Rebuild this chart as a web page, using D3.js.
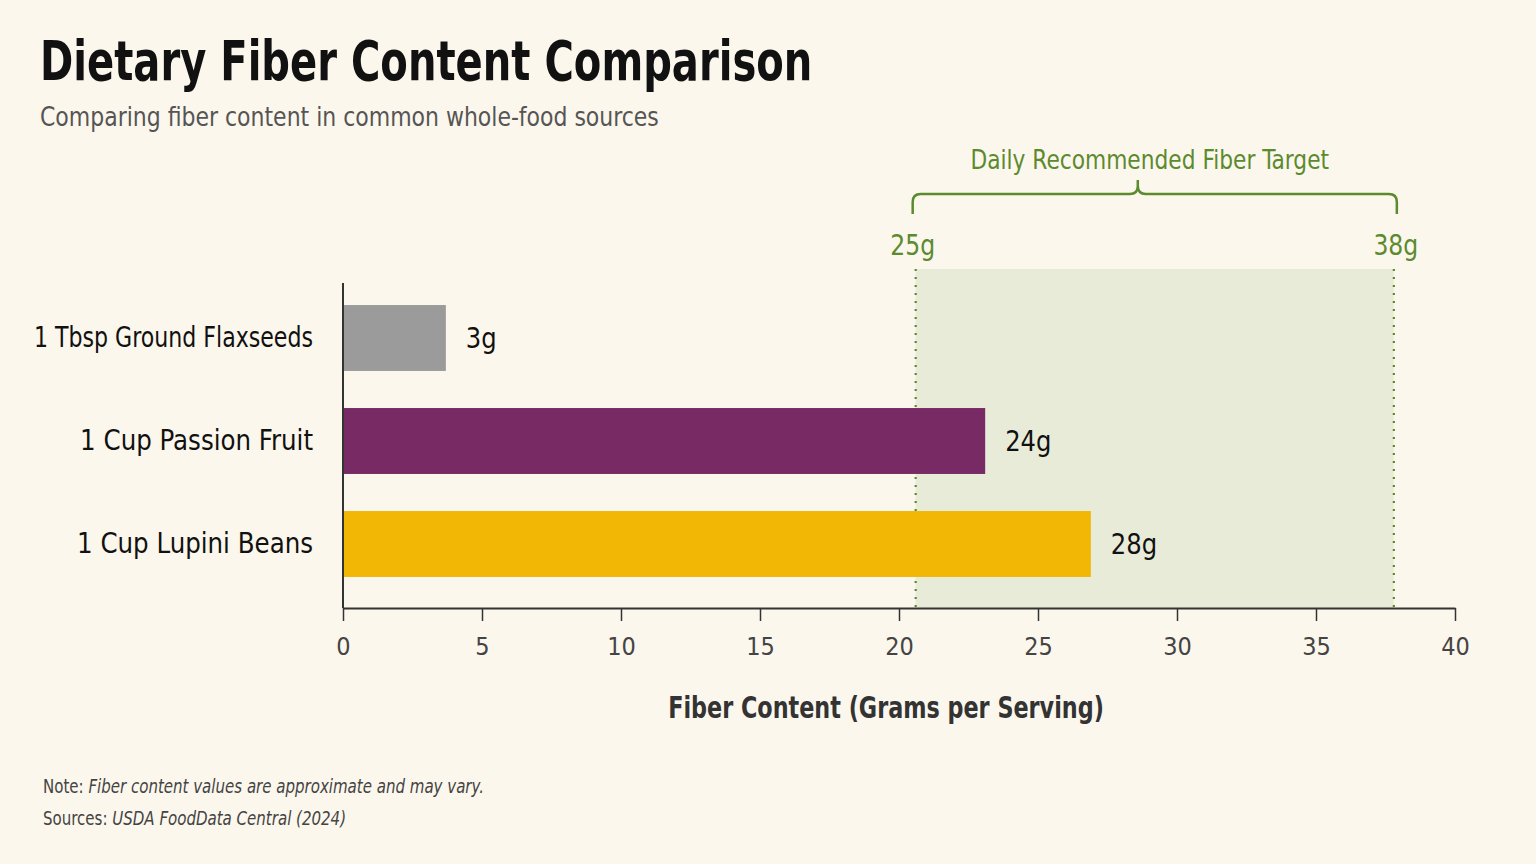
<!DOCTYPE html>
<html>
<head>
<meta charset="utf-8">
<script src="https://cdn.jsdelivr.net/npm/d3@7"></script>
<style>
  html, body { margin: 0; padding: 0; background: #fcf7ec; }
  svg text { font-family: "Liberation Sans Narrow", "DejaVu Sans Condensed", sans-serif; }
</style>
</head>
<body>
<div id="chart"></div>
<script>
// Data
const foods = ["1 Tbsp Ground Flaxseeds", "1 Cup Passion Fruit", "1 Cup Lupini Beans"]
const fiberValues = [3.7, 23.1, 26.9]
const valueLabels = ["3g", "24g", "28g"]
const barColors = ["#9b9b9b", "#772a63", "#f2b705"]
const targetRange = [20.6, 37.8]
const targetLabels = ["25g", "38g"]
const xTicks = [0, 5, 10, 15, 20, 25, 30, 35, 40]

const width = 1536
const height = 864
const green = "#5b8a2f"

const svg = d3.select('#chart').append('svg')
  .attr("width", width)
  .attr("height", height)
  .style("background", "#fcf7ec")

// squeeze text horizontally so it matches the narrow face of the original
function condense(sel, k, maxW) {
  sel.each(function () {
    const w = this.getComputedTextLength()
    let nw = w * k
    if (maxW && nw > maxW) nw = maxW
    d3.select(this).attr("textLength", nw).attr("lengthAdjust", "spacingAndGlyphs")
  })
}

// Scales
const x = d3.scaleLinear().domain([0, 40]).range([343, 1455])
const y = d3.scaleBand().domain(foods).range([286.5, 595.5])
  .paddingInner(0.36).paddingOuter(0.18)
const axisY = 608

// Title
svg.append("text")
  .attr("x", 40).attr("y", 80)
  .attr("font-size", 55).attr("font-weight", "bold")
  .attr("fill", "#111")
  .text("Dietary Fiber Content Comparison")
  .call(condense, 0.81)

svg.append("text")
  .attr("x", 40).attr("y", 126)
  .attr("font-size", 27)
  .attr("fill", "#555")
  .text("Comparing fiber content in common whole-food sources")
  .call(condense, 0.905)

// Target band
const band = svg.append("g")
band.append("rect")
  .attr("x", x(targetRange[0]))
  .attr("y", 269)
  .attr("width", x(targetRange[1]) - x(targetRange[0]))
  .attr("height", axisY - 269)
  .attr("fill", "#e9ebd9")

band.selectAll("line")
  .data(targetRange)
  .enter()
  .append("line")
  .attr("x1", d => x(d)).attr("x2", d => x(d))
  .attr("y1", 269).attr("y2", axisY)
  .attr("stroke", green)
  .attr("stroke-width", 2.2)
  .attr("stroke-dasharray", "2,6")

// Brace above band
const bl = x(targetRange[0]) - 3, br = x(targetRange[1]) + 3
const bm = bl + (br - bl) * 0.465
const by = 194, r = 8
band.append("path")
  .attr("d", `M${bl},214 L${bl},${by + r} Q${bl},${by} ${bl + r},${by}
    L${bm - r},${by} Q${bm},${by} ${bm},${by - r} L${bm},180
    M${bm},${by - r} Q${bm},${by} ${bm + r},${by}
    L${br - r},${by} Q${br},${by} ${br},${by + r} L${br},214`)
  .attr("fill", "none")
  .attr("stroke", green)
  .attr("stroke-width", 2.5)

band.append("text")
  .attr("x", (bl + br) / 2 - 5).attr("y", 169)
  .attr("text-anchor", "middle")
  .attr("font-size", 27)
  .attr("fill", green)
  .text("Daily Recommended Fiber Target")
  .call(condense, 0.895)

band.selectAll(".tlabel")
  .data(targetRange)
  .enter()
  .append("text")
  .attr("class", "tlabel")
  .attr("x", (d, i) => i === 0 ? bl : br - 1)
  .attr("y", 255)
  .attr("text-anchor", "middle")
  .attr("font-size", 29)
  .attr("fill", green)
  .text((d, i) => targetLabels[i])
  .call(condense, 0.9)

// Bars
svg.append("g")
  .selectAll("rect")
  .data(foods)
  .enter()
  .append("rect")
  .attr("x", x(0))
  .attr("y", d => y(d))
  .attr("height", y.bandwidth())
  .attr("width", (d, i) => x(fiberValues[i]) - x(0))
  .attr("fill", (d, i) => barColors[i])

svg.append("g")
  .selectAll("text")
  .data(foods)
  .enter()
  .append("text")
  .attr("x", (d, i) => x(fiberValues[i]) + 20)
  .attr("y", d => y(d) + y.bandwidth() / 2)
  .attr("dy", "0.35em")
  .attr("font-size", 29)
  .attr("fill", "#111")
  .text((d, i) => valueLabels[i])
  .call(condense, 0.93)

// Y axis
const yAxis = svg.append("g")
  .attr("transform", "translate(343,0)")
  .call(d3.axisLeft(y).tickSize(0).tickPadding(30))
yAxis.select(".domain").remove()
yAxis.selectAll("text")
  .attr("font-size", 29)
  .attr("fill", "#111")
  .style("font-family", null)
  .call(condense, 0.94, 279)
svg.append("line")
  .attr("x1", 343).attr("x2", 343)
  .attr("y1", 283).attr("y2", axisY)
  .attr("stroke", "#333").attr("stroke-width", 2)

// X axis
const xAxis = svg.append("g")
  .attr("transform", "translate(0," + axisY + ")")
  .call(d3.axisBottom(x).tickValues(xTicks).tickSize(13).tickPadding(16).tickSizeOuter(0))
xAxis.select(".domain").attr("stroke", "#333").attr("stroke-width", 2)
xAxis.selectAll(".tick line").attr("stroke", "#333").attr("stroke-width", 1.5)
xAxis.selectAll("text")
  .attr("font-size", 25)
  .attr("fill", "#444")

svg.append("text")
  .attr("x", 886).attr("y", 718)
  .attr("text-anchor", "middle")
  .attr("font-size", 31).attr("font-weight", "bold")
  .attr("fill", "#333")
  .text("Fiber Content (Grams per Serving)")
  .call(condense, 0.8)

// Footnotes
const notes = [["Note:", " Fiber content values are approximate and may vary."],
               ["Sources:", " USDA FoodData Central (2024)"]]
const foot = svg.append("g")
  .attr("transform", "translate(43,0) scale(0.88,1)")
notes.forEach((n, i) => {
  const t = foot.append("text")
    .attr("x", 0).attr("y", 793 + i * 32)
    .attr("font-size", 19)
    .attr("fill", "#444")
  t.append("tspan").text(n[0])
  t.append("tspan").attr("font-style", "italic").text(n[1])
})
</script>
</body>
</html>
